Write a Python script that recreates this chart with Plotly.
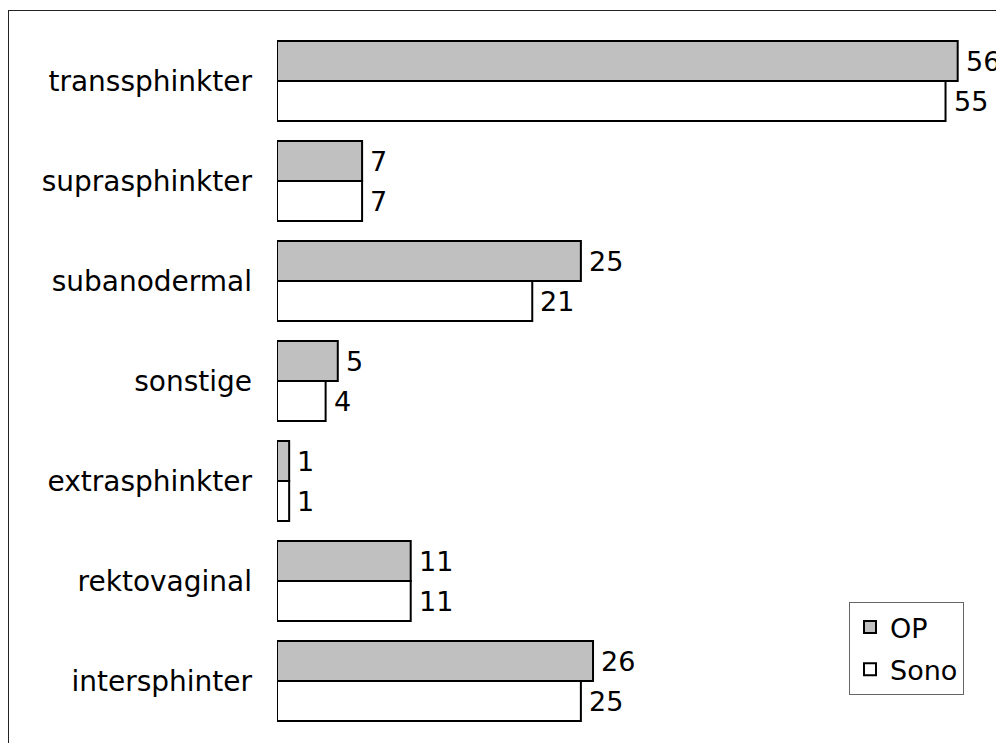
import plotly.graph_objects as go

categories = ["intersphinter", "rektovaginal", "extrasphinkter", "sonstige",
              "subanodermal", "suprasphinkter", "transsphinkter"]
op_values = [26, 11, 1, 5, 25, 7, 56]
sono_values = [25, 11, 1, 4, 21, 7, 55]

FONT = "DejaVu Sans"
FS = 28
FS_NUM = 27

fig = go.Figure()
fig.add_trace(go.Bar(
    y=categories, x=sono_values, name="Sono", orientation="h",
    marker=dict(color="#ffffff", line=dict(color="#000000", width=2)),
    legendgroup="sono", legendrank=2,
))
fig.add_trace(go.Bar(
    y=categories, x=op_values, name="OP", orientation="h",
    marker=dict(color="#c0c0c0", line=dict(color="#000000", width=2)),
    legendgroup="op", legendrank=1,
))

annotations = []
for cat, v in zip(categories, op_values):
    annotations.append(dict(x=v, y=cat, text=str(v), showarrow=False,
                            xanchor="left", yanchor="middle", xshift=6, yshift=20,
                            font=dict(family=FONT, size=FS_NUM, color="#000")))
for cat, v in zip(categories, sono_values):
    annotations.append(dict(x=v, y=cat, text=str(v), showarrow=False,
                            xanchor="left", yanchor="middle", xshift=6, yshift=-20,
                            font=dict(family=FONT, size=FS_NUM, color="#000")))

# page is offset by 8px body margin
OFF = 8
W, H = 1004 - OFF, 743 - OFF
ml, mr, mt, mb = 277 - OFF, 22, 31 - OFF, 12
pw, ph = W - ml - mr, H - mt - mb

def px_x(p):
    return (p - OFF - ml) / pw

def px_y(p):
    return (H - mb - (p - OFF)) / ph

shapes = [
    dict(type="line", xref="paper", yref="paper", x0=px_x(8.5), x1=px_x(8.5),
         y0=px_y(743), y1=px_y(10), line=dict(color="#222", width=1)),
    dict(type="line", xref="paper", yref="paper", x0=px_x(8), x1=px_x(1004),
         y0=px_y(10.5), y1=px_y(10.5), line=dict(color="#222", width=1)),
]

fig.update_layout(
    width=W, height=H,
    margin=dict(l=ml, r=mr, t=mt, b=mb),
    paper_bgcolor="white", plot_bgcolor="white",
    barmode="group", bargap=0.2, bargroupgap=0,
    font=dict(family=FONT, size=FS, color="#000"),
    xaxis=dict(range=[0, 58], visible=False, showgrid=False, zeroline=False),
    yaxis=dict(type="category", categoryorder="array", categoryarray=categories,
               range=[-0.5, 6.5], showgrid=False, zeroline=False, showline=False,
               ticks="", ticklabelstandoff=24,
               tickfont=dict(family=FONT, size=FS, color="#000")),
    legend=dict(x=px_x(964), y=px_y(695), xanchor="right", yanchor="bottom",
                bordercolor="#666", borderwidth=1, bgcolor="white",
                traceorder="grouped", tracegroupgap=4,
                font=dict(family=FONT, size=FS - 1, color="#000"),
                itemwidth=30),
    annotations=annotations,
    shapes=shapes,
    showlegend=True,
)

fig.write_html("out.html")
